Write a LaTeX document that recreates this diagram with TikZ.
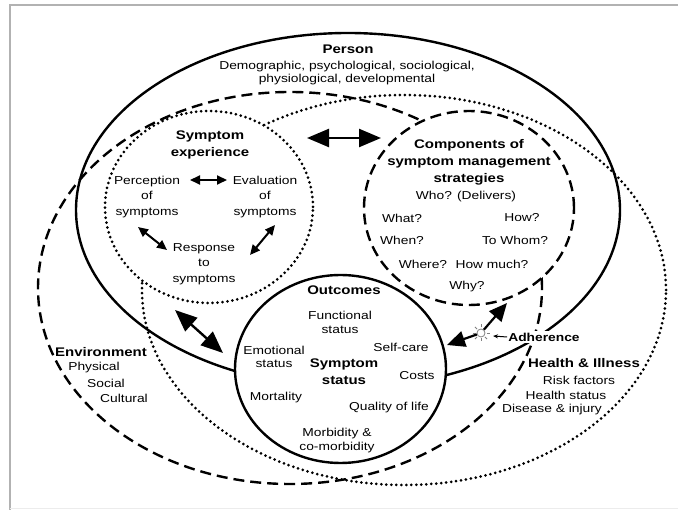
\documentclass[tikz,border=0pt]{standalone}
\usepackage{fontspec}
\setmainfont{Liberation Sans}[FakeStretch=1.2]
\usetikzlibrary{shapes.geometric, arrows.meta}
\newcommand{\hdfont}{\fontsize{12.5}{17}\selectfont\bfseries}
\newcommand{\txfont}{\fontsize{11.5}{15.5}\selectfont}
\tikzstyle{hd} = [font=\hdfont, align=center, inner sep=0pt]
\tikzstyle{txt} = [font=\txfont, align=center, inner sep=0pt]
\tikzstyle{solidline} = [line width=2.4pt]
\tikzstyle{dashline} = [line width=2.4pt, dash pattern=on 11pt off 6pt]
\tikzstyle{dotline} = [line width=3pt, line cap=round, dash pattern=on 0pt off 5pt]
\tikzstyle{region} = [ellipse, draw, fill=white, inner sep=0pt]
\tikzstyle{bigarrow} = [line width=2.4pt, {Triangle[length=22pt,width=18pt]}-{Triangle[length=22pt,width=18pt]}]
\tikzstyle{smallarrow} = [line width=2pt, {Triangle[length=10pt,width=9pt]}-{Triangle[length=10pt,width=9pt]}]
\tikzstyle{sunarrow} = [line width=2.2pt, -{Triangle[length=18pt,width=16pt]}]

\begin{document}
\begin{tikzpicture}[x=1pt, y=-1pt]
    \useasboundingbox (0,0) rectangle (678,510);
    % frame
    \draw[gray!60, line width=2pt] (680,5) -- (9.5,5) -- (9.5,512);
    \draw[gray!15] (9.5,508) -- (680,508);

    % environment, then health & illness, then person
    \draw[dashline] (290,288) ellipse [x radius=252pt, y radius=196pt];
    \node[region, dashline, minimum width=210pt, minimum height=194pt] (comp) at (469,208) {};
    \draw[dotline] (404,290) ellipse [x radius=262pt, y radius=195pt];
    \node[region, dotline, minimum width=208pt, minimum height=192pt] (symexp) at (209,207) {};
    \draw[solidline] (348,210) ellipse [x radius=272pt, y radius=177pt];
    \node[region, solidline, minimum width=211pt, minimum height=188pt] (outc) at (340.5,369) {};

    % person
    \node[hd] (person) at (348,49) {Person};
    \node[txt] (persontxt) at (347,73.5) {Demographic, psychological, sociological,\\[-2.5pt]physiological, developmental};

    % symptom experience
    \node[hd] (symexptitle) at (210,145) {Symptom\\experience};
    \node[txt] (perc) at (147,197) {Perception\\of\\symptoms};
    \node[txt] (eval) at (265,197) {Evaluation\\of\\symptoms};
    \node[txt] (resp) at (204,264) {Response\\to\\symptoms};

    % components of symptom management strategies
    \node[hd] (comptitle) at (469,162) {Components of\\symptom management\\strategies};
    \node[txt] (who) at (466,197) {Who? (Delivers)};
    \node[txt] (what) at (402,218) {What?};
    \node[txt] (how) at (522,218) {How?};
    \node[txt] (when) at (402,240) {When?};
    \node[txt] (towhom) at (515,240) {To Whom?};
    \node[txt] (where) at (423,264) {Where?};
    \node[txt] (howmuch) at (492,264) {How much?};
    \node[txt] (why) at (467,287) {Why?};

    % outcomes
    \node[hd] (outctitle) at (344,290) {Outcomes};
    \node[txt] (functional) at (340,322.5) {Functional\\[-1pt]status};
    \node[txt] (emotional) at (274,357) {Emotional\\[-2pt]status};
    \node[hd] (symstatus) at (344,372) {Symptom\\status};
    \node[txt] (selfcare) at (401,347) {Self-care};
    \node[txt] (costs) at (417,376) {Costs};
    \node[txt] (mortality) at (276,398) {Mortality};
    \node[txt] (quality) at (389,408) {Quality of life};
    \node[txt] (morbidity) at (337,440.5) {Morbidity \&\\[-1pt]co-morbidity};

    % environment
    \node[hd] (env) at (101,352) {Environment};
    \node[txt] (physical) at (94,368) {Physical};
    \node[txt] (social) at (106,383) {Social};
    \node[txt] (cultural) at (124,398) {Cultural};

    % health & illness
    \node[hd] (health) at (584,363) {Health \& Illness};
    \node[txt] (risk) at (579,380) {Risk factors};
    \node[txt] (hstatus) at (566,395) {Health status};
    \node[txt] (disease) at (552,410) {Disease \& injury};

    % adherence
    \node[font=\txfont\bfseries, fill=white, inner xsep=1pt, inner ysep=2pt] (adh) at (544,337) {Adherence};
    \node[circle, draw=gray, line width=0.8pt, minimum size=8pt, inner sep=0pt] (sun) at (481,333) {};
    \foreach \a in {0,45,...,315}
        \draw[gray, line width=0.8pt] (sun) ++(\a:5.5) -- ++(\a:3);

    % arrows
    \coordinate (symexp-e) at (307,138);
    \coordinate (comp-w) at (381,138);
    \coordinate (perc-e) at (190,180);
    \coordinate (eval-w) at (227,180);
    \coordinate (perc-s) at (138,227);
    \coordinate (resp-nw) at (167,250);
    \coordinate (eval-s) at (275,225);
    \coordinate (resp-ne) at (250,255);
    \coordinate (symexp-s) at (175,310);
    \coordinate (outc-nw) at (223,353);
    \coordinate (outc-e) at (447,345);
    \coordinate (comp-s) at (507,303);
    \coordinate (sun-e) at (493,336);
    \draw[bigarrow] (symexp-e) -- (comp-w);
    \draw[smallarrow] (perc-e) -- (eval-w);
    \draw[smallarrow] (perc-s) -- (resp-nw);
    \draw[smallarrow] (eval-s) -- (resp-ne);
    \draw[bigarrow] (symexp-s) -- (outc-nw);
    \draw[sunarrow] (sun) -- (outc-e);
    \draw[sunarrow] (sun) -- (comp-s);
    \draw[line width=1pt, -{Stealth[length=5pt,width=4pt]}] (adh.west) -- (sun-e);
\end{tikzpicture}
\end{document}
